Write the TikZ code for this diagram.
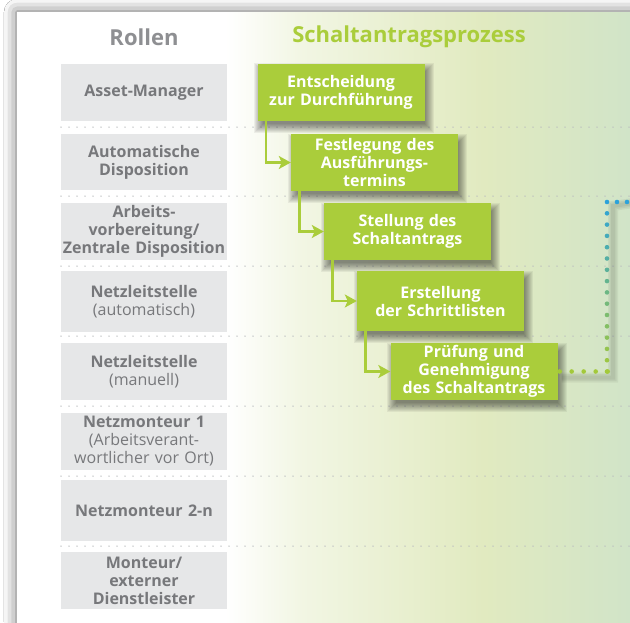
\documentclass[tikz,border=0pt]{standalone}
\usepackage{fontspec}
\setmainfont{Open Sans}
\usetikzlibrary{calc,arrows.meta,shadows.blur,backgrounds}
\definecolor{rolefill}{HTML}{E6E7E8}
\definecolor{roletext}{HTML}{77787B}
\definecolor{headgray}{HTML}{8E8F92}
\definecolor{procgreen}{HTML}{AACD3B}
\definecolor{sepgray}{HTML}{B9BBBE}
\definecolor{linkgreen}{HTML}{A3C93A}
\definecolor{linkblue}{HTML}{2CA2DA}
\definecolor{bgA}{HTML}{F2F6E4}
\definecolor{bgB}{HTML}{E1EAC0}
\definecolor{bgC}{HTML}{D1E4C8}
\pgfdeclarehorizontalshading{panelfade}{100bp}{color(0bp)=(white); color(42bp)=(white); color(48bp)=(bgA); color(63bp)=(bgB); color(75bp)=(bgC); color(100bp)=(bgC)}
\pgfdeclarelayer{panel}
\pgfsetlayers{panel,background,main}

\begin{document}
\begin{tikzpicture}[x=1pt,y=-1pt,
    role/.style={fill=rolefill,text=roletext,minimum width=166pt,text width=166pt,inner sep=0pt,align=center,font=\fontsize{16}{18}\selectfont\bfseries},
    proc/.style={fill=procgreen,text=white,minimum width=167pt,text width=167pt,minimum height=57pt,inner sep=0pt,align=center,font=\fontsize{16}{18}\selectfont\bfseries},
    flow/.style={draw=procgreen,line width=2.6pt,-{Stealth[length=12pt,width=13pt,inset=3pt]}},
    sepline/.style={sepgray,line width=1.5pt,line cap=round,dash pattern=on 0pt off 8pt},
    head/.style={font=\fontsize{22}{24}\selectfont\bfseries}]
  \useasboundingbox (0,0) rectangle (630,622);
  \clip (0,0) rectangle (630,622);
  \begin{pgfonlayer}{panel}
    \fill[white] (0,0) rectangle (630,622);
    \fill[white,blur shadow={shadow xshift=0pt,shadow yshift=0pt,shadow blur radius=13pt,shadow opacity=60}] (17,12) rectangle (660,660);
    \shade[shading=panelfade] (17,12) rectangle (630,660);
    \foreach \y in {127,196,266,336,406,476,546}
      \draw[sepline] (61,\y) -- (640,\y);
  \end{pgfonlayer}

  \node[head,text=headgray] (rollen) at (144,37) {Rollen};
  \node[head,text=procgreen] (titel) at (409,37) {Schaltantragsprozess};

  \node[role,minimum height=57pt] (am) at (144,92.3) {Asset-Manager};
  \node[role,minimum height=56pt] (ad) at (144,162) {Automatische\\Disposition};
  \node[role,minimum height=57pt] (av) at (144,231.5) {Arbeits-\\vorbereitung/\\Zentrale Disposition};
  \node[role,minimum height=61pt] (nla) at (144,301.5) {Netzleitstelle\\\mdseries(automatisch)};
  \node[role,minimum height=57pt] (nlm) at (144,371.5) {Netzleitstelle\\\mdseries(manuell)};
  \node[role,minimum height=57pt] (nm1) at (144,441.5) {Netzmonteur 1\\\mdseries(Arbeitsverant-\\wortlicher vor Ort)};
  \node[role,minimum height=61pt] (nm2) at (144,510.5) {Netzmonteur 2-n};
  \node[role,minimum height=57pt] (mon) at (144,580.5) {Monteur/\\externer\\Dienstleister};

  \node[proc] (entsch) at (341,92) {Entscheidung\\zur Durchführung};
  \node[proc] (festl) at (374.5,162.5) {Festlegung des\\Ausführungs-\\termins};
  \node[proc] (stell) at (407.5,231.5) {Stellung des\\Schaltantrags};
  \node[proc,minimum height=60pt] (erst) at (440.5,301) {Erstellung\\der Schrittlisten};
  \node[proc] (pruef) at (474,371.5) {Prüfung und\\Genehmigung\\des Schaltantrags};

  \begin{scope}[on background layer]
    \foreach \n in {entsch,festl,stell,erst,pruef}
      \foreach \k in {-3,...,6}
        \fill[black,opacity=0.055] ($(\n.south west)+(3-\k,6+\k)$) rectangle ($(\n.north east)+(3+\k,6-\k)$);
  \end{scope}

  \draw[flow] ([xshift=8.5pt]entsch.south west) |- (festl.west);
  \draw[flow] ([xshift=8.5pt]festl.south west) |- (stell.west);
  \draw[flow] ([xshift=8.5pt]stell.south west) |- (erst.west);
  \draw[flow] ([xshift=8.5pt]erst.south west) |- (pruef.west);

  \coordinate (knick) at (607,202);
  \coordinate (ausgang) at (640,202);
  \begin{scope}[on background layer]
    \foreach \w in {4,7,10}
      \draw[black,opacity=0.05,line width=\w pt] ([shift={(4pt,-6pt)}]pruef.east) -| ([shift={(6pt,-4pt)}]knick) -- (ausgang);
  \end{scope}
  \foreach \i in {0,...,4}
    \fill[linkgreen] ($(pruef.east)+(2+12*\i,0)$) circle[radius=2.3pt];
  \foreach \i in {0,...,15}{
    \pgfmathtruncatemacro\p{100*\i/15}
    \fill[linkblue!\p!linkgreen] ($(pruef.east -| knick)!\i/15!(knick)$) circle[radius=2.3pt];
  }
  \foreach \i in {1,2}
    \fill[linkblue] ($(knick)+(10*\i,0)$) circle[radius=2.3pt];
\end{tikzpicture}
\end{document}
